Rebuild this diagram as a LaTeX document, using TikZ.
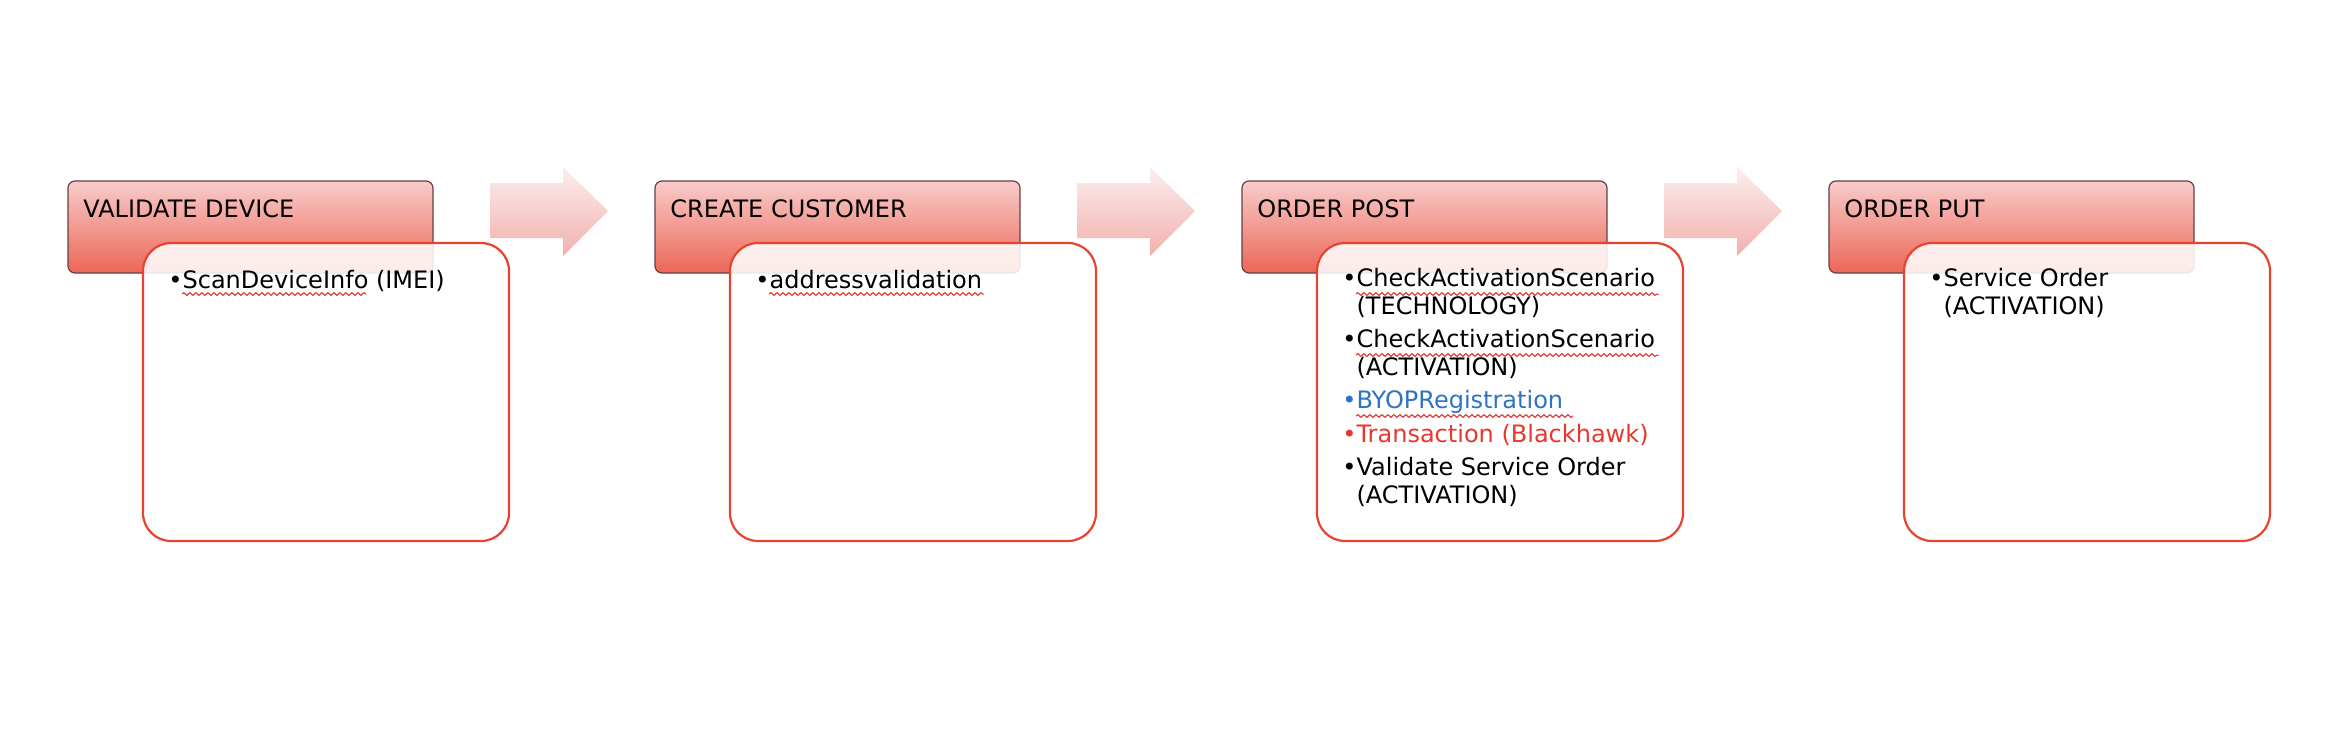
\documentclass[tikz,border=0pt]{standalone}
\usepackage{fontspec}
\setmainfont{DejaVu Sans}
\usepackage{tikz}
\usetikzlibrary{decorations.pathmorphing}
\definecolor{hdtop}{RGB}{248, 204, 202}
\definecolor{hdbot}{RGB}{236, 102, 87}
\definecolor{hdline}{RGB}{100, 66, 64}
\definecolor{boxline}{RGB}{232, 67, 46}
\definecolor{arrtop}{RGB}{252, 238, 238}
\definecolor{arrbot}{RGB}{241, 176, 173}
\definecolor{byop}{RGB}{46, 115, 196}
\definecolor{trans}{RGB}{232, 56, 46}
\definecolor{spellred}{RGB}{230, 40, 40}

\begin{document}
\begin{tikzpicture}[x=0.5pt, y=-0.5pt,
  header/.style={draw=hdline, line width=0.6pt, rounded corners=3.5pt, top color=hdtop, bottom color=hdbot, minimum width=182.5pt, minimum height=46pt, inner sep=0},
  panel/.style={draw=boxline, line width=1.1pt, rounded corners=14pt, fill=white, fill opacity=0.87, minimum width=183pt, minimum height=149pt, inner sep=0},
  title/.style={anchor=base west, inner sep=0, font=\fontsize{12}{14}\selectfont},
  items/.style={anchor=north west, inner sep=0, align=left, font=\fontsize{12}{13.75}\selectfont, execute at begin node=\rule{0pt}{10pt}},
  spell/.style={draw=spellred, line width=0.5pt, decorate, decoration={snake, amplitude=0.7pt, segment length=3pt}},
  flow/.style={top color=arrtop, bottom color=arrbot}]
  \useasboundingbox (0, 0) rectangle (2342, 734);

  % block arrows between the stages
  \foreach \k in {0, 1, 2}
    \path[flow] ({490+587*\k}, 183) -- ({563+587*\k}, 183) -- ({563+587*\k}, 167) -- ({608+587*\k}, 211)
      -- ({563+587*\k}, 256) -- ({563+587*\k}, 238) -- ({490+587*\k}, 238) -- cycle;

  % stage headers
  \node[header] (validate) at (250.5, 227) {};
  \node[header] (create) at (837.5, 227) {};
  \node[header] (post) at (1424.5, 227) {};
  \node[header] (put) at (2011.5, 227) {};

  % stage panels
  \node[panel] (validate-box) at (326, 392) {};
  \node[panel] (create-box) at (913, 392) {};
  \node[panel] (post-box) at (1500, 392) {};
  \node[panel] (put-box) at (2087, 392) {};

  \node[title] (validate-t) at (83, 217) {VALIDATE DEVICE};
  \node[title] (create-t) at (670, 217) {CREATE CUSTOMER};
  \node[title] (post-t) at (1257, 217) {ORDER POST};
  \node[title] (put-t) at (1844, 217) {ORDER PUT};

  \node[items] (validate-i) at (168, 268) {•ScanDeviceInfo (IMEI)};
  \node[items] (create-i) at (755, 268) {•addressvalidation};
  \node[items] (post-i) at (1342, 268) {•CheckActivationScenario\\\hphantom{•}(TECHNOLOGY)\\[3pt]
    •CheckActivationScenario\\\hphantom{•}(ACTIVATION)\\[3pt]
    \textcolor{byop}{•BYOPRegistration}\\[3pt]
    \textcolor{trans}{•Transaction (Blackhawk)}\\[3pt]
    •Validate Service Order\\\hphantom{•}(ACTIVATION)};
  \node[items] (put-i) at (1929, 268) {•Service Order\\\hphantom{•}(ACTIVATION)};

  % spelling marks
  \draw[spell] (182, 294) -- (366, 294);
  \draw[spell] (769, 294) -- (984, 294);
  \draw[spell] (1356, 294) -- (1659, 294);
  \draw[spell] (1356, 355) -- (1659, 355);
  \draw[spell] (1356, 416) -- (1573, 416);
\end{tikzpicture}
\end{document}
